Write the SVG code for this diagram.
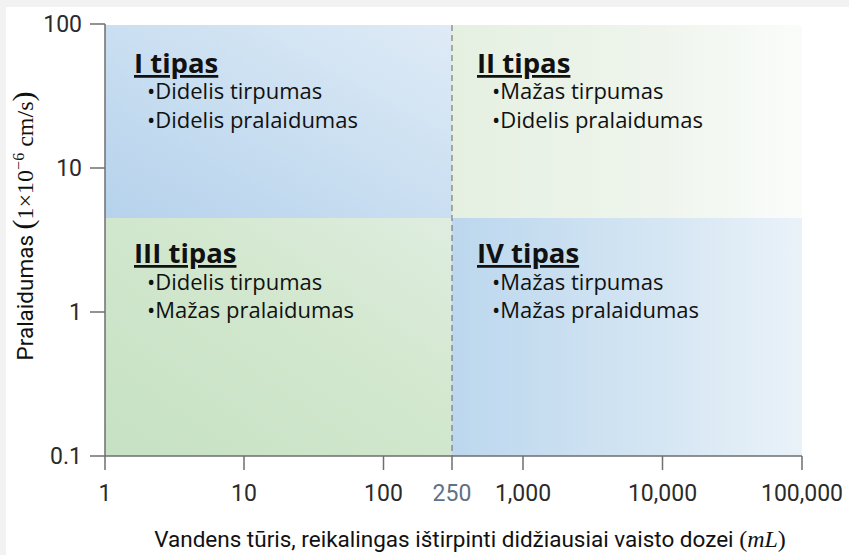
<svg xmlns="http://www.w3.org/2000/svg" width="849" height="555" viewBox="0 0 849 555">
<defs>
<linearGradient id="gI" x1="0" y1="1" x2="1" y2="0">
<stop offset="0" stop-color="#b6d2ec"/><stop offset="0.5" stop-color="#cadff1"/><stop offset="1" stop-color="#dfebf6"/>
</linearGradient>
<linearGradient id="gII" x1="0" y1="0.5" x2="1" y2="0.5">
<stop offset="0" stop-color="#e5f0e1"/><stop offset="0.6" stop-color="#eff5ed"/><stop offset="1" stop-color="#fafcfa"/>
</linearGradient>
<linearGradient id="gIII" x1="0" y1="1" x2="1" y2="0">
<stop offset="0" stop-color="#c6e1c3"/><stop offset="0.6" stop-color="#d3e8cf"/><stop offset="1" stop-color="#dfede0"/>
</linearGradient>
<linearGradient id="gIV" x1="0" y1="0.5" x2="1" y2="0.5">
<stop offset="0" stop-color="#bcd7ee"/><stop offset="0.6" stop-color="#d5e6f3"/><stop offset="1" stop-color="#eaf2f9"/>
</linearGradient>
<style>
.ax{stroke:#6f6f6f;stroke-width:1.5;fill:none}
.tk{font-family:Roboto,"Liberation Sans",sans-serif;font-size:23px;fill:#2b2b2b}
.tt{font-family:"Open Sans","Liberation Sans",sans-serif;font-size:27.5px;font-weight:bold;fill:#111;text-decoration:underline}
.bl{font-family:"Open Sans","Liberation Sans",sans-serif;font-size:22px;fill:#111}
.lab{font-family:Roboto,"Liberation Sans",sans-serif;font-size:22.5px;fill:#111}
.ser{font-family:"Liberation Serif","DejaVu Serif",serif}
</style>
</defs>
<rect x="0" y="0" width="849" height="555" fill="#f2f2f2"/>
<rect x="6" y="7" width="843" height="548" fill="#ffffff"/>

<g id="quadrant-I">
<rect x="105" y="25" width="347" height="193" fill="url(#gI)"/>
<text class="tt" x="134" y="73">I tipas</text>
<text class="bl" x="147" y="99">•Didelis tirpumas</text>
<text class="bl" x="147" y="128">•Didelis pralaidumas</text>
</g>
<g id="quadrant-II">
<rect x="452" y="25" width="350" height="193" rx="3" fill="url(#gII)"/>
<text class="tt" x="477" y="73">II tipas</text>
<text class="bl" x="492" y="99">•Mažas tirpumas</text>
<text class="bl" x="492" y="128">•Didelis pralaidumas</text>
</g>
<g id="quadrant-III">
<rect x="105" y="218" width="347" height="238" fill="url(#gIII)"/>
<text class="tt" x="134" y="263">III tipas</text>
<text class="bl" x="147" y="290">•Didelis tirpumas</text>
<text class="bl" x="147" y="318">•Mažas pralaidumas</text>
</g>
<g id="quadrant-IV">
<rect x="452" y="218" width="350" height="238" fill="url(#gIV)"/>
<text class="tt" x="477" y="263">IV tipas</text>
<text class="bl" x="492" y="290">•Mažas tirpumas</text>
<text class="bl" x="492" y="318">•Mažas pralaidumas</text>
</g>

<g id="axes">
<line x1="452" y1="25" x2="452" y2="456" stroke="#666" stroke-width="1" stroke-dasharray="6 4"/>
<path class="ax" d="M105 24 V456 H802"/>
<path class="ax" d="M90 24 H105 M90 168 H105 M90 312 H105 M90 456 H105"/>
<path class="ax" d="M105 456 V470 M244 456 V470 M383.5 456 V470 M452 456 V470 M523 456 V470 M662.5 456 V470 M802 456 V470"/>
<text class="tk" x="82" y="32" text-anchor="end">100</text>
<text class="tk" x="82" y="176" text-anchor="end">10</text>
<text class="tk" x="82" y="320" text-anchor="end">1</text>
<text class="tk" x="82" y="464" text-anchor="end">0.1</text>
<text class="tk" x="105" y="501" text-anchor="middle">1</text>
<text class="tk" x="244" y="501" text-anchor="middle">10</text>
<text class="tk" x="383.5" y="501" text-anchor="middle">100</text>
<text class="tk" x="452" y="501" text-anchor="middle" style="fill:#5d7388">250</text>
<text class="tk" x="523" y="501" text-anchor="middle">1,000</text>
<text class="tk" x="662.5" y="501" text-anchor="middle">10,000</text>
<text class="tk" x="802" y="501" text-anchor="middle">100,000</text>
<text class="lab" x="470" y="547" text-anchor="middle">Vandens tūris, reikalingas ištirpinti didžiausiai vaisto dozei <tspan class="ser" font-size="24">(</tspan><tspan class="ser" font-size="24" font-style="italic">mL</tspan><tspan class="ser" font-size="24">)</tspan></text>
<text class="lab" transform="translate(33,226) rotate(-90)" text-anchor="middle">Pralaidumas <tspan class="ser" font-size="30">(</tspan><tspan class="ser" font-size="24">1×10</tspan><tspan class="ser" font-size="16" dy="-9">−6</tspan><tspan class="ser" font-size="24" dy="9"> cm/s</tspan><tspan class="ser" font-size="30">)</tspan></text>
</g>
</svg>
